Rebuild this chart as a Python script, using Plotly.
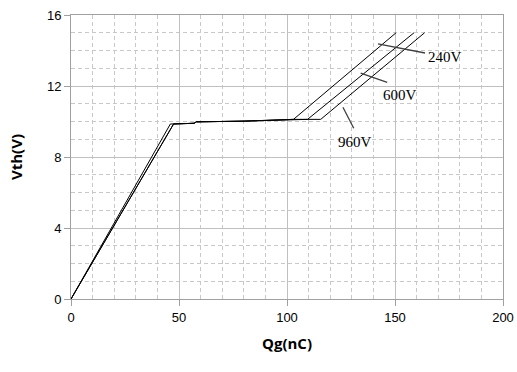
import plotly.graph_objects as go

# Gate charge curves (Qg in nC, Vth in V)
qg_240 = [0, 46, 57, 58, 80, 103, 150.5]
vth_240 = [0, 9.86, 9.9, 9.98, 10.02, 10.12, 15.0]

qg_600 = [0, 47.5, 57, 58, 80, 103, 109.5, 158.8]
vth_600 = [0, 9.86, 9.9, 9.98, 10.02, 10.12, 10.12, 15.0]

qg_960 = [0, 47.5, 57, 58, 80, 103, 115.6, 163.7]
vth_960 = [0, 9.86, 9.9, 9.98, 10.02, 10.12, 10.12, 15.0]

labels = ["240V", "600V", "960V"]
label_text_x = [173.1, 152.2, 131.5]
label_text_y = [13.62, 11.49, 8.86]
leader_x0 = [142.1, 134.1, 125.9]
leader_y0 = [14.37, 12.72, 10.8]
leader_x1 = [163.9, 146.4, 130.9]
leader_y1 = [13.86, 12.21, 9.62]

x_ticks = [0, 50, 100, 150, 200]
y_ticks = [0, 4, 8, 12, 16]

fig = go.Figure()
for xs, ys, name in [(qg_240, vth_240, "240V"), (qg_600, vth_600, "600V"), (qg_960, vth_960, "960V")]:
    fig.add_trace(go.Scatter(x=xs, y=ys, mode="lines", name=name,
                             line=dict(color="black", width=1), showlegend=False))

for i, lab in enumerate(labels):
    fig.add_shape(type="line", x0=leader_x0[i], y0=leader_y0[i], x1=leader_x1[i], y1=leader_y1[i],
                  xref="x", yref="y", line=dict(color="#404040", width=1.3))
    fig.add_annotation(x=label_text_x[i], y=label_text_y[i], text=lab, showarrow=False,
                       font=dict(family="Liberation Serif", size=15, color="black"))

grid_major = "#c0c0c0"
grid_minor = "#c8c8c8"
tick_font = dict(family="Liberation Sans Narrow, Liberation Sans", size=13, color="black")

fig.update_xaxes(range=[0, 200], tickvals=x_ticks, showgrid=True, gridcolor=grid_major, gridwidth=1,
                 minor=dict(dtick=10, showgrid=True, gridcolor=grid_minor, griddash="4px,3px", gridwidth=1, ticks=""),
                 showline=True, linecolor="#a0a0a0", linewidth=1, mirror=True,
                 ticks="outside", ticklen=6, tickcolor="#a0a0a0",
                 zeroline=False, automargin=False, ticklabeloverflow="allow",
                 tickfont=tick_font,
                 title=dict(text="<b>Qg(nC)</b>", font=dict(family="Open Sans", size=15, color="black"), standoff=14))
fig.update_yaxes(range=[0, 16], tickvals=y_ticks, showgrid=True, gridcolor=grid_major, gridwidth=1,
                 minor=dict(dtick=1, showgrid=True, gridcolor=grid_minor, griddash="4px,3px", gridwidth=1, ticks=""),
                 showline=True, linecolor="#a0a0a0", linewidth=1, mirror=True,
                 ticks="outside", ticklen=6, tickcolor="#a0a0a0",
                 zeroline=False, automargin=False, ticklabeloverflow="allow",
                 tickfont=tick_font,
                 title=dict(text="<b>Vth(V)</b>", font=dict(family="Open Sans", size=15, color="black"), standoff=20))

fig.update_layout(width=517, height=372, margin=dict(l=71, r=14, t=15, b=73),
                  plot_bgcolor="white", paper_bgcolor="white")

fig.write_html("out.html", config={"displayModeBar": False},
               post_script="document.body.style.margin='0';document.body.style.overflow='hidden';")
